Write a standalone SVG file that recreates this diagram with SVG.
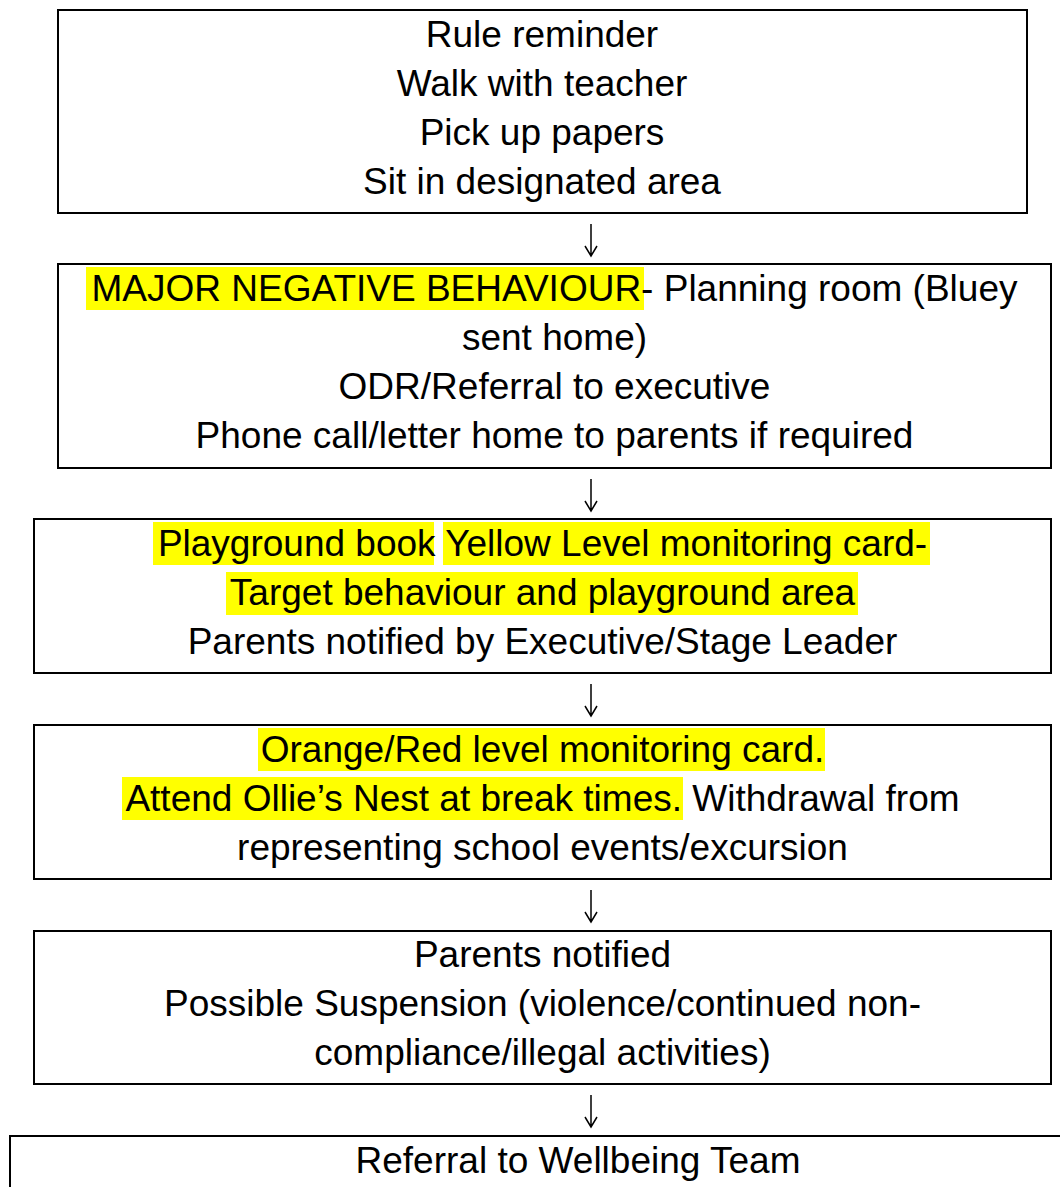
<svg xmlns="http://www.w3.org/2000/svg" width="1060" height="1187" viewBox="0 0 1060 1187">
<style>
.box{fill:#fff;stroke:#000;stroke-width:2}
.t{font-family:"Liberation Sans",Arial,sans-serif;font-size:37px;fill:#000;text-anchor:middle}
.hl{fill:#ffff00}
.arr{fill:none;stroke:#000;stroke-width:1.5}
</style>
<rect width="1060" height="1187" fill="#fff"/>
<g id="node1">
<rect class="box" x="58" y="10" width="969" height="203"/>
<text class="t" x="542" y="47">Rule reminder</text>
<text class="t" x="542" y="96">Walk with teacher</text>
<text class="t" x="542" y="145">Pick up papers</text>
<text class="t" x="542" y="194">Sit in designated area</text>
</g>
<g id="node2">
<rect class="box" x="58" y="264" width="993" height="204"/>
<rect class="hl" x="86" y="267" width="558" height="43"/>
<text class="t" x="554.5" y="301">MAJOR NEGATIVE BEHAVIOUR- Planning room (Bluey</text>
<text class="t" x="554.5" y="350">sent home)</text>
<text class="t" x="554.5" y="399">ODR/Referral to executive</text>
<text class="t" x="554.5" y="448">Phone call/letter home to parents if required</text>
</g>
<g id="node3">
<rect class="box" x="34" y="519" width="1017" height="154"/>
<rect class="hl" x="153" y="522" width="281" height="43"/>
<rect class="hl" x="443" y="522" width="487" height="43"/>
<rect class="hl" x="226" y="572" width="632" height="43"/>
<text class="t" x="542.5" y="556">Playground book Yellow Level monitoring card-</text>
<text class="t" x="542.5" y="605">Target behaviour and playground area</text>
<text class="t" x="542.5" y="654">Parents notified by Executive/Stage Leader</text>
</g>
<g id="node4">
<rect class="box" x="34" y="725" width="1017" height="154"/>
<rect class="hl" x="258" y="728" width="567" height="43"/>
<rect class="hl" x="122" y="777" width="561" height="43"/>
<text class="t" x="542.5" y="762">Orange/Red level monitoring card.</text>
<text class="t" x="542.5" y="811">Attend Ollie’s Nest at break times. Withdrawal from</text>
<text class="t" x="542.5" y="860">representing school events/excursion</text>
</g>
<g id="node5">
<rect class="box" x="34" y="931" width="1017" height="153"/>
<text class="t" x="542.5" y="967">Parents notified</text>
<text class="t" x="542.5" y="1016">Possible Suspension (violence/continued non-</text>
<text class="t" x="542.5" y="1065">compliance/illegal activities)</text>
</g>
<g id="node6">
<rect class="box" x="10" y="1136" width="1140" height="100"/>
<text class="t" x="578" y="1173">Referral to Wellbeing Team</text>
</g>
<g id="connectors">
<path class="arr" d="M591,224V256M585,246L591,256L597,246"/>
<path class="arr" d="M591,479V511M585,501L591,511L597,501"/>
<path class="arr" d="M591,684V716M585,706L591,716L597,706"/>
<path class="arr" d="M591,890V922M585,912L591,922L597,912"/>
<path class="arr" d="M591,1095V1127M585,1117L591,1127L597,1117"/>
</g>
</svg>
